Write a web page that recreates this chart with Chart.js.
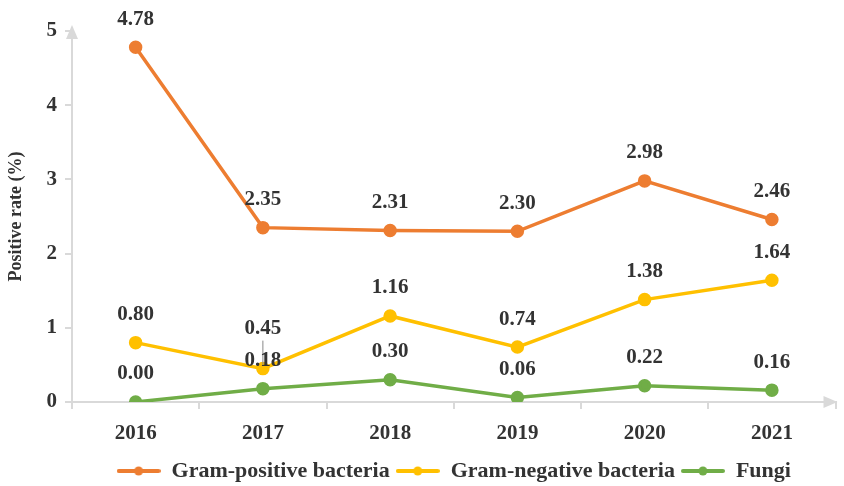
<!DOCTYPE html>
<html>
<head>
<meta charset="utf-8">
<script src="https://cdn.jsdelivr.net/npm/chart.js@4.4.0/dist/chart.umd.min.js"></script>
<style>
  html, body { margin: 0; padding: 0; background: #fff; }
</style>
</head>
<body>
<canvas id="chart" width="844" height="486"></canvas>
<script>
const years = ['2016', '2017', '2018', '2019', '2020', '2021'];
const gramPositive = [4.78, 2.35, 2.31, 2.30, 2.98, 2.46];
const gramNegative = [0.80, 0.45, 1.16, 0.74, 1.38, 1.64];
const fungi = [0.00, 0.18, 0.30, 0.06, 0.22, 0.16];
const yTicks = [0, 1, 2, 3, 4, 5];

const FONT = '"Liberation Serif", "Times New Roman", serif';
const TEXT = '#333333';
const AXIS = '#d9d9d9';

function legendIcon(color) {
    const c = document.createElement('canvas');
    c.width = 44; c.height = 10;
    const g = c.getContext('2d');
    g.strokeStyle = color;
    g.lineWidth = 4;
    g.lineCap = 'round';
    g.beginPath(); g.moveTo(2, 5); g.lineTo(42, 5); g.stroke();
    g.fillStyle = color;
    g.beginPath(); g.arc(22, 5, 4.5, 0, Math.PI * 2); g.fill();
    return c;
}

// value labels above points; the 2017 negative label gets a leader line
const valueLabels = {
    id: 'valueLabels',
    afterDatasetsDraw(chart) {
        const ctx = chart.ctx;
        ctx.save();
        ctx.font = 'bold 21px ' + FONT;
        ctx.fillStyle = TEXT;
        ctx.textAlign = 'center';
        ctx.textBaseline = 'middle';
        chart.data.datasets.forEach((ds, i) => {
            chart.getDatasetMeta(i).data.forEach((pt, j) => {
                let dy = 28;
                if (i === 1 && j === 1) {
                    dy = 40;
                    ctx.strokeStyle = '#888';
                    ctx.lineWidth = 1;
                    ctx.beginPath();
                    ctx.moveTo(pt.x, pt.y - 28);
                    ctx.lineTo(pt.x, pt.y - 4);
                    ctx.stroke();
                }
                ctx.fillText(ds.data[j].toFixed(2), pt.x, pt.y - dy);
            });
        });
        ctx.restore();
    }
};

// arrow heads at the end of both axes
const axisArrows = {
    id: 'axisArrows',
    beforeDatasetsDraw(chart) {
        const { ctx, chartArea: a } = chart;
        ctx.save();
        ctx.fillStyle = AXIS;
        ctx.beginPath();
        ctx.moveTo(a.left, a.top - 6);
        ctx.lineTo(a.left - 6, a.top + 8);
        ctx.lineTo(a.left + 6, a.top + 8);
        ctx.closePath();
        ctx.fill();
        ctx.beginPath();
        ctx.moveTo(a.right + 2, a.bottom);
        ctx.lineTo(a.right - 12, a.bottom - 6);
        ctx.lineTo(a.right - 12, a.bottom + 6);
        ctx.closePath();
        ctx.fill();
        ctx.restore();
    }
};

function series(label, data, color) {
    return {
        label: label,
        data: data,
        borderColor: color,
        backgroundColor: color,
        borderWidth: 3.5,
        pointRadius: 5,
        pointHoverRadius: 5,
        tension: 0
    };
}

new Chart(document.getElementById('chart'), {
    type: 'line',
    data: {
        labels: years,
        datasets: [
            series('Gram-positive bacteria', gramPositive, '#ED7D31'),
            series('Gram-negative bacteria', gramNegative, '#FFC000'),
            series('Fungi', fungi, '#70AD47')
        ]
    },
    options: {
        responsive: false,
        animation: false,
        layout: { padding: { top: 31, right: 4, left: 6, bottom: -6 } },
        plugins: {
            legend: {
                position: 'bottom',
                fullSize: false,
                labels: {
                    usePointStyle: true,
                    pointStyleWidth: 44,
                    boxHeight: 10,
                    color: TEXT,
                    font: { family: FONT, size: 22, weight: 'bold' },
                    padding: 6,
                    generateLabels(chart) {
                        return chart.data.datasets.map((ds, i) => ({
                            text: ds.label,
                            pointStyle: legendIcon(ds.borderColor),
                            fontColor: TEXT,
                            strokeStyle: ds.borderColor,
                            fillStyle: ds.borderColor,
                            lineWidth: 0,
                            datasetIndex: i
                        }));
                    }
                }
            },
            tooltip: { enabled: false }
        },
        scales: {
            x: {
                offset: true,
                afterFit(scale) { scale.height = 52; },
                border: { color: AXIS, width: 2 },
                grid: { drawOnChartArea: false, offset: true, color: AXIS, tickLength: 7, lineWidth: 2 },
                ticks: { color: TEXT, font: { family: FONT, size: 21, weight: 'bold' }, padding: 12, maxRotation: 0 }
            },
            y: {
                min: 0,
                max: 5,
                afterBuildTicks(scale) { scale.ticks = yTicks.map(v => ({ value: v })); },
                afterFit(scale) { scale.width = 66; },
                border: { color: AXIS, width: 2 },
                grid: { drawOnChartArea: false, color: AXIS, tickLength: 7, lineWidth: 2 },
                ticks: { color: TEXT, font: { family: FONT, size: 21, weight: 'bold' }, padding: 8 },
                title: {
                    display: true,
                    text: 'Positive rate (%)',
                    color: TEXT,
                    font: { family: FONT, size: 18, weight: 'bold' },
                    padding: 0
                }
            }
        }
    },
    plugins: [axisArrows, valueLabels]
});
</script>
</body>
</html>
